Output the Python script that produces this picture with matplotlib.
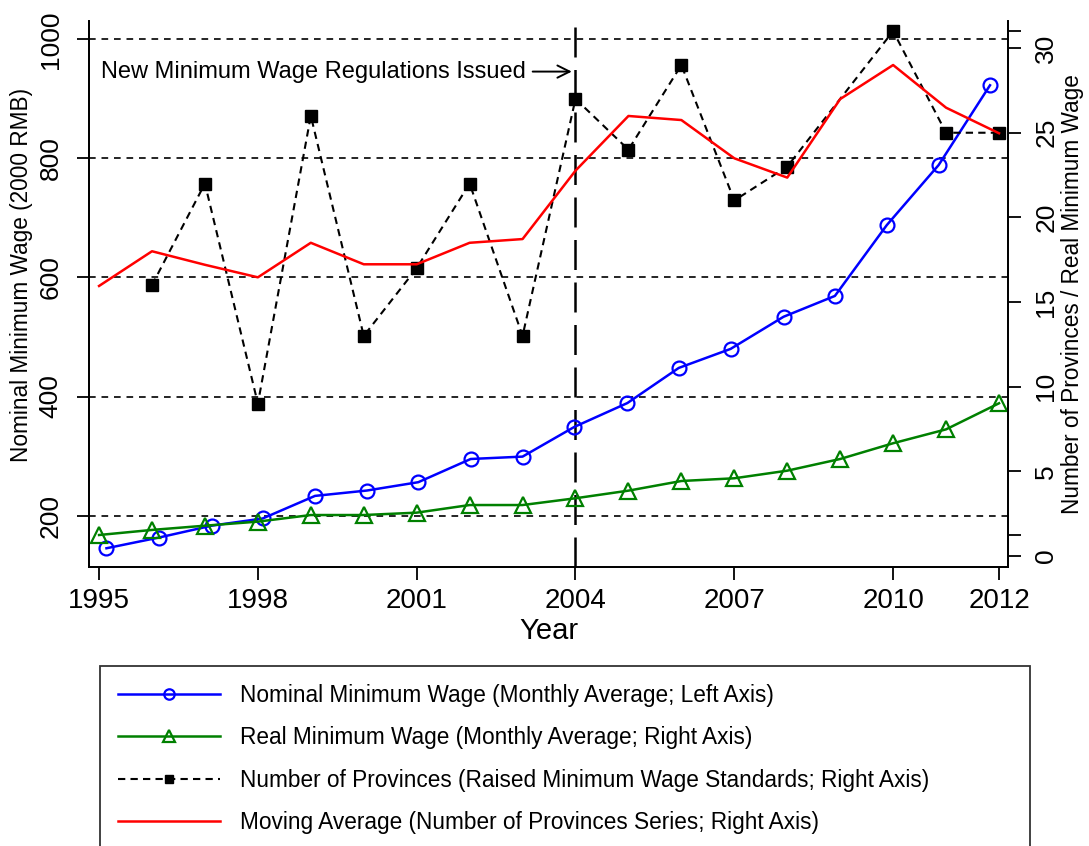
import matplotlib
matplotlib.use("Agg")
import matplotlib.pyplot as plt
import numpy as np

plt.rcParams["font.family"] = ["Liberation Sans", "DejaVu Sans"]

# Data
years = [1995, 1996, 1997, 1998, 1999, 2000, 2001, 2002, 2003,
         2004, 2005, 2006, 2007, 2008, 2009, 2010, 2011, 2012]
# nominal series sits slightly off the integer years in the original
nominal_x = [1995.14, 1996.13, 1997.13, 1998.09, 1999.08, 2000.06, 2001.03,
             2002.02, 2003.00, 2003.98, 2004.98, 2005.95, 2006.93, 2007.93,
             2008.90, 2009.88, 2010.86, 2011.83]
nominal_wage = [145, 163, 183, 195, 233, 242, 256, 295, 299,
                349, 389, 448, 480, 534, 569, 688, 789, 923]
real_wage = [1.24, 1.54, 1.79, 2.03, 2.42, 2.42, 2.56, 3.01, 3.01,
             3.41, 3.86, 4.43, 4.59, 5.04, 5.73, 6.66, 7.48, 9.02]
provinces = [np.nan, 16, 22, 9, 26, 13, 17, 22, 13,
             27, 24, 29, 21, 23, np.nan, 31, 25, 25]
moving_avg = [15.95, 18.0, 17.2, 16.46, 18.5, 17.23, 17.23, 18.5, 18.72,
              22.76, 25.99, 25.75, 23.49, 22.35, 26.99, 29.0, 26.48, 24.97]

x_ticks = [1995, 1998, 2001, 2004, 2007, 2010, 2012]
left_ticks = [200, 400, 600, 800, 1000]
right_ticks = [0, 5, 10, 15, 20, 25, 30]

labels = [
    "Nominal Minimum Wage (Monthly Average; Left Axis)",
    "Real Minimum Wage (Monthly Average; Right Axis)",
    "Number of Provinces (Raised Minimum Wage Standards; Right Axis)",
    "Moving Average (Number of Provinces Series; Right Axis)",
]

fig = plt.figure(figsize=(10.89, 8.46), dpi=100)
ax1 = fig.add_axes([89 / 1089, 1 - 567 / 846, (1008 - 89) / 1089, (567 - 21) / 846])
ax2 = ax1.twinx()

# Left axis: nominal wage
ax1.set_xlim(1994.81, 2012.17)
ax1.set_ylim(113.5, 1031)
ax1.set_yticks(left_ticks)
ax1.yaxis.grid(True, linestyle=(0, (4, 3.5)), color="black", linewidth=1.2)
ax1.axvline(2004, color="black", linestyle=(0, (12, 5)), linewidth=1.8, zorder=1)
(l1,) = ax1.plot(nominal_x, nominal_wage, color="#0000ff", linewidth=1.8,
                 marker="o", markersize=10, markerfacecolor="none",
                 markeredgewidth=1.6, label=labels[0])

ax1.annotate("New Minimum Wage Regulations Issued", xy=(2003.93, 946),
             xytext=(2003.06, 946), ha="right", va="center", fontsize=17,
             arrowprops=dict(arrowstyle="->", color="black", lw=1.4,
                             mutation_scale=22, shrinkA=3, shrinkB=0))

# Right axis: real wage, provinces, moving average
ax2.set_ylim(-0.65, 31.6)
prov = np.array(provinces, dtype=float)
ok = ~np.isnan(prov)
(l2,) = ax2.plot(years, real_wage, color="#008000", linewidth=1.8,
                 marker="^", markersize=11, markerfacecolor="none",
                 markeredgewidth=1.6, label=labels[1])
(l3,) = ax2.plot(np.array(years)[ok], prov[ok], color="black",
                 linestyle=(0, (3.5, 2.5)), linewidth=1.5, marker="s",
                 markersize=8.5, label=labels[2])
(l4,) = ax2.plot(years, moving_avg, color="#ff0000", linewidth=1.8,
                 label=labels[3])

ax2.set_yticks(right_ticks)
# unlabeled range ticks at the data extremes, like the original
ax2.set_yticks([min(real_wage), np.nanmax(prov)], minor=True)

ax1.set_xticks(x_ticks)
for ax in (ax1, ax2):
    for s in ("left", "right", "bottom"):
        ax.spines[s].set_linewidth(1.3)
    ax.spines["top"].set_visible(False)
    ax.tick_params(which="both", direction="out", length=9, width=1.3)

ax1.tick_params(axis="x", labelsize=20, pad=6)
ax1.tick_params(axis="y", labelsize=19, labelrotation=90, pad=10)
ax2.tick_params(axis="y", labelsize=19, labelrotation=90, pad=10)
for t in ax1.get_yticklabels() + ax2.get_yticklabels():
    t.set_va("center")

ax1.set_xlabel("Year", fontsize=21, labelpad=2)
ax1.set_ylabel("Nominal Minimum Wage (2000 RMB)", fontsize=16.3)
ax1.yaxis.set_label_coords(-0.061, 0.535)
ax2.set_ylabel("Number of Provinces / Real Minimum Wage", fontsize=16.3)
ax2.yaxis.set_label_coords(1.058, 0.5)

leg = fig.legend(handles=[l1, l2, l3, l4], loc="upper left",
                 bbox_to_anchor=(100 / 1089, 0, 930 / 1089, 1 - 666 / 846),
                 mode="expand", fontsize=16.3, frameon=True, fancybox=False,
                 handlelength=4.5, handletextpad=0.9, labelspacing=0.85,
                 borderpad=0.8, markerscale=0.75, borderaxespad=0)
leg.get_frame().set_edgecolor("black")
leg.get_frame().set_linewidth(1.3)

fig.savefig("out.png", dpi=100)
